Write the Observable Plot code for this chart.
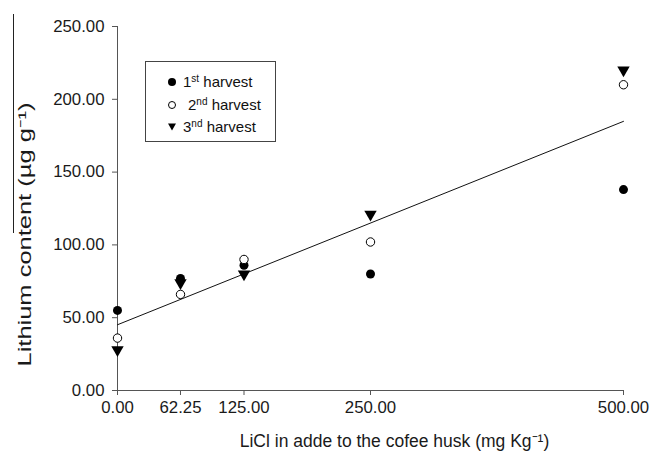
<!DOCTYPE html>
<html>
<head>
<meta charset="utf-8">
<script src="https://cdn.jsdelivr.net/npm/d3@7"></script>
<script src="https://cdn.jsdelivr.net/npm/@observablehq/plot@0.6"></script>
<style>
  html, body { margin: 0; padding: 0; background: #fff; }
  #wrap { position: relative; width: 651px; height: 454px; font-family: "Liberation Sans", Arial, sans-serif; }
  #stray { position: absolute; left: 13px; top: 14px; width: 0; height: 219px; border-left: 1px solid #222; }
  #legend { position: absolute; left: 145px; top: 61px; width: 131px; height: 81px; border: 1px solid #444; box-sizing: border-box; font-size: 15px; color: #111; background: #fff; }
  #legend .row { position: absolute; left: 0; height: 20px; line-height: 20px; white-space: nowrap; }
  #legend svg { position: absolute; left: 21px; top: 5px; }
  #legend span { position: absolute; top: 0; }
  #legend sup { font-size: 10px; vertical-align: 0; position: relative; top: -5px; }
</style>
</head>
<body>
<div id="wrap"></div>
<script>
const doses = [0, 62.25, 125, 250, 500];
const harvest1 = [55, 77, 86, 80, 138];
const harvest2 = [36, 66, 90, 102, 210];
const harvest3 = [28, 74, 80, 121, 220];
const xTicks = [0, 62.25, 125, 250, 500];
const yTicks = [0, 50, 100, 150, 200, 250];
const seriesNames = ["1st harvest", "2nd harvest", "3nd harvest"];

const h1 = doses.map((d, i) => ({x: d, y: harvest1[i]}));
const h2 = doses.map((d, i) => ({x: d, y: harvest2[i]}));
const h3 = doses.map((d, i) => ({x: d, y: harvest3[i]}));
const all = [...h1, ...h2, ...h3];
const fmt = d => d.toFixed(2);

const chart = Plot.plot({
  width: 651,
  height: 454,
  marginLeft: 117,
  marginRight: 28,
  marginTop: 26,
  marginBottom: 64,
  style: {fontFamily: '"Liberation Sans", Arial, sans-serif', fontSize: "16px", color: "#111", background: "#fff"},
  x: {domain: [0, 500]},
  y: {domain: [0, 250]},
  marks: [
    Plot.ruleY([0], {stroke: "#555"}),
    Plot.ruleX([0], {stroke: "#555"}),
    Plot.axisX({ticks: xTicks, tickFormat: fmt, tickSize: 5, tickPadding: 6, label: null, stroke: "#555", fill: "#1a1a1a", fontSize: 16.8}),
    Plot.axisY({ticks: yTicks, tickFormat: fmt, tickSize: 5, tickPadding: 8, label: null, stroke: "#555", fill: "#1a1a1a", fontSize: 16.8}),
    Plot.linearRegressionY(all, {x: "x", y: "y", ci: 0, stroke: "#111", strokeWidth: 1}),
    Plot.dot(h1, {x: "x", y: "y", r: 4.5, fill: "#000", stroke: "none"}),
    Plot.dot(h2, {x: "x", y: "y", r: 4.2, fill: "#fff", stroke: "#000", strokeWidth: 1}),
    Plot.dot(h3, {x: "x", y: "y", r: 4.6, symbol: "triangle", rotate: 180, fill: "#000", stroke: "none"}),
    Plot.text(["LiCl in adde to the cofee husk (mg Kg⁻¹)"], {frameAnchor: "bottom", dx: 24, dy: 56, fontSize: 17.5, fill: "#1a1a1a"}),
    Plot.text(["Lithium content (µg g⁻¹)"], {frameAnchor: "left", textAnchor: "middle", rotate: -90, dx: -92, dy: 26, fontSize: 17.5, fill: "#1a1a1a", className: "ylab"})
  ]
});
d3.select(chart).selectAll(".ylab text").attr("textLength", 264).attr("lengthAdjust", "spacingAndGlyphs");
const wrap = document.getElementById("wrap");
wrap.appendChild(chart);
const stray = document.createElement("div");
stray.id = "stray";
wrap.appendChild(stray);

const legend = document.createElement("div");
legend.id = "legend";
const syms = [
  '<svg width="10" height="10"><circle cx="5" cy="5" r="4" fill="#000"/></svg>',
  '<svg width="10" height="10"><circle cx="5" cy="5" r="3.5" fill="#fff" stroke="#000"/></svg>',
  '<svg width="10" height="10"><path d="M1,1.5 L9,1.5 L5,8.5 Z" fill="#000"/></svg>'
];
const labelHtml = ["1<sup>st</sup> harvest", "2<sup>nd</sup> harvest", "3<sup>nd</sup> harvest"];
const textLeft = [37, 42, 37];
seriesNames.forEach((name, i) => {
  const row = document.createElement("div");
  row.className = "row";
  row.style.top = (10 + i * 22.5) + "px";
  row.innerHTML = syms[i] + '<span style="left:' + textLeft[i] + 'px">' + labelHtml[i] + "</span>";
  row.title = name;
  legend.appendChild(row);
});
wrap.appendChild(legend);
</script>
</body>
</html>
